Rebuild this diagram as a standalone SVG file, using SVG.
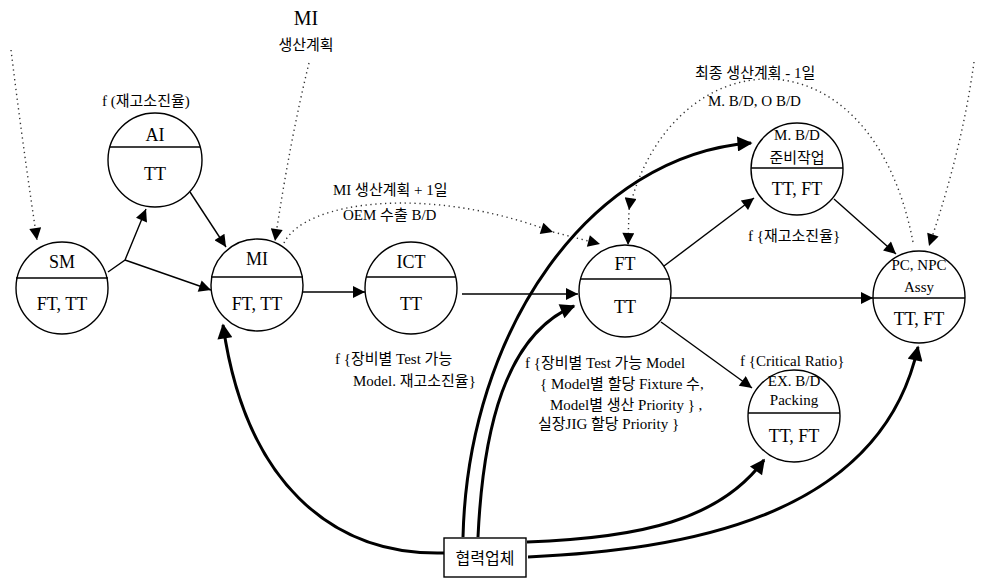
<svg xmlns="http://www.w3.org/2000/svg" width="982" height="585" viewBox="0 0 982 585">
<defs>
<style>
.c{fill:#fff;stroke:#000;stroke-width:1.4}
.d{stroke:#000;stroke-width:1.6}
.n{font-family:"Liberation Serif",serif;font-size:18px;text-anchor:middle;fill:#000}
.s{font-family:"Liberation Serif","Noto Sans CJK KR",serif;font-size:15px;text-anchor:middle;fill:#000}
.l{font-family:"Liberation Serif","Noto Sans CJK KR",sans-serif;font-size:15px;fill:#000}
.thin{fill:none;stroke:#000;stroke-width:1.4;marker-end:url(#ah)}
.dot{fill:none;stroke:#333;stroke-width:1.4;stroke-dasharray:1.3 3.6;marker-end:url(#ah)}
.thick{fill:none;stroke:#000;stroke-width:3;marker-end:url(#ahb)}
</style>
<marker id="ah" viewBox="0 0 10 10" refX="10" refY="5" markerWidth="14" markerHeight="12" markerUnits="userSpaceOnUse" orient="auto"><path d="M0,0 L10,5 L0,10 z" fill="#000"/></marker>
<marker id="ahb" viewBox="0 0 10 10" refX="9" refY="5" markerWidth="18" markerHeight="15" markerUnits="userSpaceOnUse" orient="auto"><path d="M0,0 L10,5 L0,10 z" fill="#000"/></marker>
</defs>
<rect width="982" height="585" fill="#fff"/>

<g id="connectors">
<path class="dot" d="M11 50 Q 22 140 37 240"/>
<path class="thin" d="M108 272 L125 260 L146 209"/>
<path class="thin" d="M125 260 L211 290"/>
<path class="thin" d="M190 192 L226 247"/>
<path class="dot" d="M309 63 Q 290 140 275 241"/>
<path class="thin" d="M302 292 L365 292"/>
<path class="thin" d="M462 294 L578 294"/>
<path class="dot" d="M284 243 C 305 200, 430 185, 553 232 L600 244" style="marker-mid:url(#ah)"/>
<path class="dot" d="M913 242 C 870 20, 670 40, 629 210 L628 245" style="marker-mid:url(#ah)"/>
<path class="dot" d="M974 62 Q 962 150 929 246"/>
<path class="thin" d="M664 266 L754 198"/>
<path class="thin" d="M834 199 L896 254"/>
<path class="thin" d="M671 298 L873 298"/>
<path class="thin" d="M661 322 L752 388"/>
<path class="thick" d="M444 553 C 330 556, 245 480, 223 325"/>
<path class="thick" d="M463 537 C 468 330, 590 155, 751 143"/>
<path class="thick" d="M478 537 C 483 430, 505 335, 574 306"/>
<path class="thick" d="M527 542 C 640 538, 720 520, 764 460"/>
<path class="thick" d="M528 557 C 680 550, 880 520, 918 347"/>
</g>

<g id="labels">
<text x="306" y="25" class="n" style="font-size:20px">MI</text>
<text x="306" y="50" class="s">생산계획</text>
<text x="102" y="106" class="l">f (재고소진율)</text>
<text x="333" y="195" class="l">MI 생산계획 + 1일</text>
<text x="343" y="220" class="l">OEM 수출 B/D</text>
<text x="695" y="78" class="l">최종 생산계획 - 1일</text>
<text x="708" y="106" class="l">M. B/D, O B/D</text>
<text x="748" y="241" class="l">f {재고소진율}</text>
<text x="335" y="364" class="l">f {장비별 Test 가능</text>
<text x="353" y="386" class="l">Model. 재고소진율}</text>
<text x="525" y="368" class="l">f {장비별 Test 가능 Model</text>
<text x="540" y="389" class="l">{ Model별 할당 Fixture 수,</text>
<text x="550" y="410" class="l">Model별 생산 Priority } ,</text>
<text x="538" y="429" class="l">실장JIG 할당 Priority }</text>
<text x="740" y="366" class="l">f {Critical Ratio}</text>
</g>

<g id="SM">
<circle class="c" cx="62" cy="288" r="46"/>
<line class="d" x1="16" y1="278" x2="108" y2="278"/>
<text x="62" y="268" class="n">SM</text>
<text x="62" y="310" class="n">FT, TT</text>
</g>
<g id="AI">
<circle class="c" cx="155" cy="160" r="47"/>
<line class="d" x1="110" y1="147" x2="200" y2="147"/>
<text x="155" y="141" class="n">AI</text>
<text x="155" y="180" class="n">TT</text>
</g>
<g id="MI">
<circle class="c" cx="257" cy="285" r="46"/>
<line class="d" x1="211" y1="277" x2="303" y2="277"/>
<text x="257" y="265" class="n">MI</text>
<text x="257" y="310" class="n">FT, TT</text>
</g>
<g id="ICT">
<circle class="c" cx="411" cy="288" r="46"/>
<line class="d" x1="366" y1="277" x2="456" y2="277"/>
<text x="411" y="268" class="n">ICT</text>
<text x="411" y="310" class="n">TT</text>
</g>
<g id="FT">
<circle class="c" cx="625" cy="291" r="46"/>
<line class="d" x1="580" y1="279" x2="670" y2="279"/>
<text x="625" y="270" class="n">FT</text>
<text x="625" y="313" class="n">TT</text>
</g>
<g id="MBD">
<circle class="c" cx="797" cy="169" r="46"/>
<line class="d" x1="751" y1="168" x2="843" y2="168"/>
<text x="797" y="140" class="s">M. B/D</text>
<text x="797" y="163" class="s">준비작업</text>
<text x="797" y="195" class="n">TT, FT</text>
</g>
<g id="PCNPC">
<circle class="c" cx="919" cy="297" r="46"/>
<line class="d" x1="873" y1="298" x2="965" y2="298"/>
<text x="919" y="270" class="s">PC, NPC</text>
<text x="919" y="292" class="s">Assy</text>
<text x="919" y="325" class="n">TT, FT</text>
</g>
<g id="EXBD">
<circle class="c" cx="794" cy="416" r="46"/>
<line class="d" x1="748" y1="413" x2="840" y2="413"/>
<text x="794" y="386" class="s">EX. B/D</text>
<text x="794" y="405" class="s">Packing</text>
<text x="794" y="442" class="n">TT, FT</text>
</g>
<g id="partner">
<rect x="444" y="538" width="82" height="39" fill="#fff" stroke="#000" stroke-width="1.4"/>
<text x="485" y="564" class="s" style="font-size:16px">협력업체</text>
</g>
</svg>
